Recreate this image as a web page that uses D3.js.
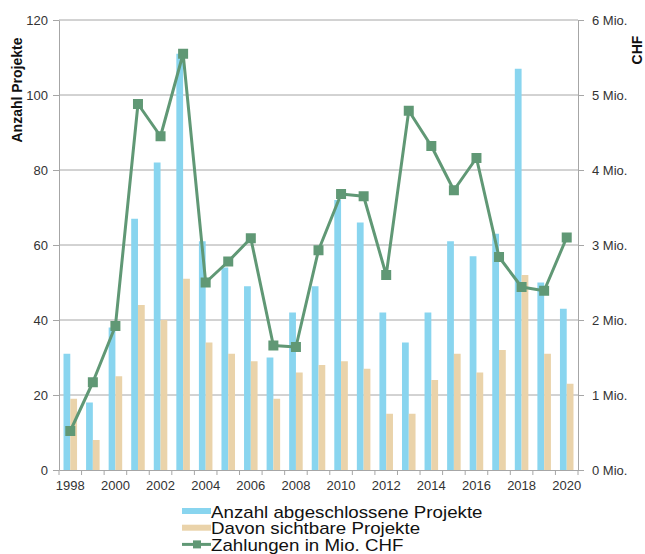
<!DOCTYPE html>
<html>
<head>
<meta charset="utf-8">
<script src="https://cdn.jsdelivr.net/npm/d3@7"></script>
<style>
  body { margin: 0; background: #fff; }
  svg { display: block; font-family: "Liberation Sans", Arial, sans-serif; }
</style>
</head>
<body>
<svg id="chart" width="645" height="554"></svg>
<script>
const years = d3.range(1998, 2021)
const projects = [31, 18, 38, 67, 82, 111, 61, 54, 49, 30, 42, 49, 72, 66, 42, 34, 42, 61, 57, 63, 107, 50, 43]
const visible = [19, 8, 25, 44, 40, 51, 34, 31, 29, 19, 26, 28, 29, 27, 15, 15, 24, 31, 26, 32, 52, 31, 23]
const payments = [0.52, 1.17, 1.92, 4.88, 4.45, 5.55, 2.50, 2.78, 3.09, 1.66, 1.64, 2.93, 3.68, 3.65, 2.60, 4.79, 4.32, 3.73, 4.16, 2.84, 2.44, 2.39, 3.10]
const leftTicks = [0, 20, 40, 60, 80, 100, 120]
const rightTicks = [0, 1, 2, 3, 4, 5, 6]
const legendItems = ['Anzahl abgeschlossene Projekte', 'Davon sichtbare Projekte', 'Zahlungen in Mio. CHF']

const BLUE = '#89d5ef'
const TAN = '#ead3aa'
const GREEN = '#609875'
const GRID = '#a6a6a6'
const TEXT = '#333'

const margin = { top: 20, right: 67, bottom: 84, left: 59 }
const width = 645, height = 554
const innerW = width - margin.left - margin.right
const innerH = height - margin.top - margin.bottom

const svg = d3.select('#chart')
const root = svg.append('g').attr('transform', `translate(${margin.left},${margin.top})`)

const x = d3.scaleBand().domain(years).range([0, innerW])
const yL = d3.scaleLinear().domain([0, 120]).range([innerH, 0])
const yR = d3.scaleLinear().domain([0, 6]).range([innerH, 0])
const barW = x.bandwidth() * 0.3
const groupOff = (x.bandwidth() - 2 * barW) / 2

// gridlines
root.append('g')
  .selectAll('line')
  .data(leftTicks.slice(1))
  .join('line')
  .attr('x1', 0).attr('x2', innerW)
  .attr('y1', d => yL(d)).attr('y2', d => yL(d))
  .attr('stroke', GRID).attr('stroke-width', 1)

// bars
root.append('g').selectAll('rect')
  .data(years)
  .join('rect')
  .attr('x', (d) => x(d) + groupOff)
  .attr('y', (d, i) => yL(projects[i]))
  .attr('width', barW)
  .attr('height', (d, i) => innerH - yL(projects[i]))
  .attr('fill', BLUE)

root.append('g').selectAll('rect')
  .data(years)
  .join('rect')
  .attr('x', (d) => x(d) + groupOff + barW)
  .attr('y', (d, i) => yL(visible[i]))
  .attr('width', barW)
  .attr('height', (d, i) => innerH - yL(visible[i]))
  .attr('fill', TAN)

// axes
const styleAxis = g => {
  g.select('.domain').attr('stroke', GRID)
  g.selectAll('.tick line').attr('stroke', GRID)
  g.selectAll('.tick text').attr('fill', TEXT).attr('font-size', '13px')
}

root.append('g')
  .call(d3.axisLeft(yL).tickValues(leftTicks).tickSize(6).tickSizeOuter(0).tickPadding(5))
  .call(styleAxis)

root.append('g')
  .attr('transform', `translate(${innerW},0)`)
  .call(d3.axisRight(yR).tickValues(rightTicks).tickSize(6).tickSizeOuter(0).tickPadding(8)
    .tickFormat(d => `${d} Mio.`))
  .call(styleAxis)

const xAxis = root.append('g')
  .attr('transform', `translate(0,${innerH})`)
  .call(d3.axisBottom(x).tickSize(0).tickPadding(11).tickFormat(d => (d % 2 === 0 ? d : '')))
  .call(styleAxis)

// tick marks at band boundaries
xAxis.append('g').selectAll('line')
  .data(years.concat([2021]))
  .join('line')
  .attr('x1', (d, i) => i * x.step()).attr('x2', (d, i) => i * x.step())
  .attr('y1', 0).attr('y2', 5)
  .attr('stroke', GRID)

// axis titles
root.append('text')
  .attr('transform', 'rotate(-90)')
  .attr('x', -70).attr('y', -37)
  .attr('text-anchor', 'middle')
  .attr('font-size', '14px').attr('font-weight', 'bold').attr('fill', '#111')
  .text('Anzahl Projekte')

root.append('text')
  .attr('transform', 'rotate(-90)')
  .attr('x', -30).attr('y', innerW + 64)
  .attr('text-anchor', 'middle')
  .attr('font-size', '14px').attr('font-weight', 'bold').attr('fill', '#111')
  .text('CHF')

// payments line
const line = d3.line()
  .x((d, i) => x(years[i]) + x.bandwidth() / 2)
  .y(d => yR(d))

root.append('path')
  .datum(payments)
  .attr('fill', 'none')
  .attr('stroke', GREEN)
  .attr('stroke-width', 3)
  .attr('stroke-linejoin', 'round')
  .attr('d', line)

root.append('g').selectAll('rect')
  .data(payments)
  .join('rect')
  .attr('x', (d, i) => x(years[i]) + x.bandwidth() / 2 - 5)
  .attr('y', d => yR(d) - 5)
  .attr('width', 10).attr('height', 10)
  .attr('fill', GREEN)

// legend (text is drawn a bit wider, like the original)
const legend = svg.append('g').attr('transform', 'translate(182,0)')
legendItems.forEach((label, i) => {
  const cy = 511 + i * 16.7
  if (i < 2) {
    legend.append('rect')
      .attr('x', 0).attr('y', cy - 3).attr('width', 29).attr('height', 6)
      .attr('fill', i === 0 ? BLUE : TAN)
  } else {
    legend.append('line')
      .attr('x1', 0).attr('x2', 29).attr('y1', cy).attr('y2', cy)
      .attr('stroke', GREEN).attr('stroke-width', 3)
    legend.append('rect')
      .attr('x', 11).attr('y', cy - 4).attr('width', 8).attr('height', 8)
      .attr('fill', GREEN)
  }
  legend.append('text')
    .attr('transform', `translate(29,${cy + 6.5}) scale(1.17,1)`)
    .attr('font-size', '16px').attr('fill', '#111')
    .text(label)
})
</script>
</body>
</html>
